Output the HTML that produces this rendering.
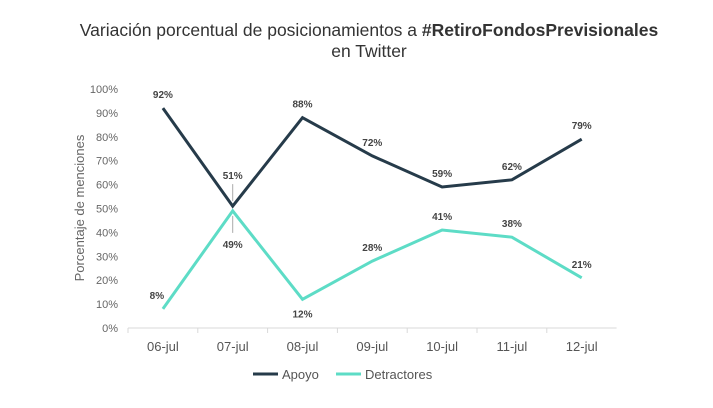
<!DOCTYPE html>
<html><head><meta charset="utf-8"><style>
body{margin:0;background:#fff;font-family:"Liberation Sans",sans-serif;}
svg text{font-family:"Liberation Sans",sans-serif;}
</style></head><body>
<svg width="713" height="403">
<text x="369" y="36" text-anchor="middle" font-size="17.5" fill="#333">Variación porcentual  de posicionamientos a <tspan font-weight="bold">#RetiroFondosPrevisionales</tspan></text>
<text x="369" y="57" text-anchor="middle" font-size="17.5" fill="#333">en Twitter</text>
<text transform="translate(84,208) rotate(-90)" text-anchor="middle" font-size="13" fill="#666">Porcentaje de menciones</text>
<g id="g"></g>
</svg>
<script>
const categories=["06-jul","07-jul","08-jul","09-jul","10-jul","11-jul","12-jul"];
const apoyo=[92,51,88,72,59,62,79];
const detractores=[8,49,12,28,41,38,21];
const yTicks=[0,10,20,30,40,50,60,70,80,90,100];
const NS="http://www.w3.org/2000/svg";
const g=document.getElementById('g');
const x0=128,step=69.8,y0=328,y1=89;
const X=i=>x0+step*(i+0.5);
const Y=v=>y0-(v/100)*(y0-y1);
function el(t,a){const e=document.createElementNS(NS,t);for(const k in a)e.setAttribute(k,a[k]);g.appendChild(e);return e;}
yTicks.forEach(v=>{const t=el('text',{x:118,y:Y(v)+4,'text-anchor':'end','font-size':11,fill:'#666'});t.textContent=v+'%';

});
const ax=el('line',{x1:x0,x2:x0+step*categories.length,y1:y0,y2:y0,stroke:'#d9d9d9'});


categories.forEach((c,i)=>{
 const tk=el('line',{x1:x0+step*i,x2:x0+step*i,y1:y0,y2:y0+5,stroke:'#d9d9d9'});
 
 
 const t=el('text',{x:X(i),y:351,'text-anchor':'middle','font-size':13,fill:'#555'});t.textContent=c;
 
 
});
function series(vals,color,name,pos){
 const p=el('polyline',{points:vals.map((v,i)=>X(i)+','+Y(v)).join(' '),fill:'none',stroke:color,'stroke-width':3,'stroke-linejoin':'miter'});
 
 
 vals.forEach((v,i)=>{
  const up=pos[i]>=0;
  let dy=up?-10:18,dx=pos[i]===2?-6:0;
  if(i===1){const l=el('line',{x1:X(i),x2:X(i),y1:Y(v)+(up?-5:5),y2:Y(v)+(up?-22:22),stroke:'#aaa'});
   
   
   dy=up?-27:37;}
  const t=el('text',{x:X(i)+dx,y:Y(v)+dy,'text-anchor':'middle','font-size':10,'font-weight':'bold',fill:'#444'});t.textContent=v+'%';
  
  
 });
}
series(apoyo,'#263b4a','apoyo',[1,1,1,1,1,1,1]);
series(detractores,'#5ddcc6','detractores',[2,-1,-1,1,1,1,1]);
// legend
const l1=el('line',{x1:253,x2:278,y1:374,y2:374,stroke:'#263b4a','stroke-width':3});


const t1=el('text',{x:282,y:379,'font-size':13,fill:'#555'});t1.textContent='Apoyo';


const l2=el('line',{x1:336,x2:361,y1:374,y2:374,stroke:'#5ddcc6','stroke-width':3});


const t2=el('text',{x:365,y:379,'font-size':13,fill:'#555'});t2.textContent='Detractores';


</script>
</body></html>
